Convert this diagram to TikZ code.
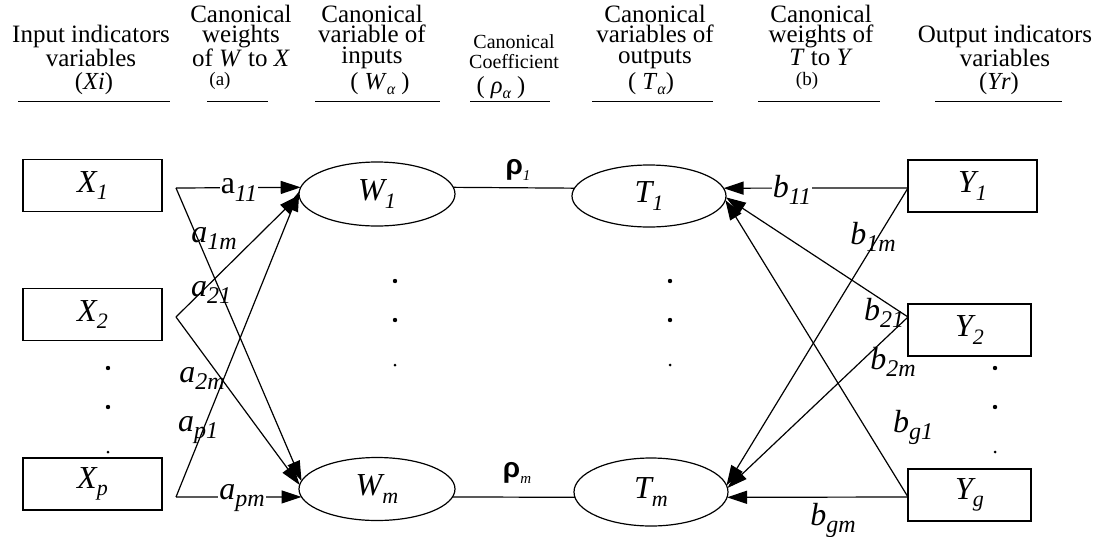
\documentclass[tikz,border=0pt]{standalone}
\usepackage{fontspec}
\setmainfont{Liberation Serif}
\newfontfamily\symf{Liberation Sans}
\usetikzlibrary{arrows.meta,shapes.geometric}
\newcommand\sbs[2]{\raisebox{-0.22em}{\fontsize{#1}{#1}\selectfont\itshape #2}}
\begin{document}
\begin{tikzpicture}[x=1pt,y=-1pt,
  every node/.style={inner sep=0pt,outer sep=0pt},
  hdr/.style={align=center,anchor=north,font=\fontsize{25}{20.5}\selectfont},
  hsm/.style={align=center,anchor=north,font=\fontsize{20}{20}\selectfont},
  par/.style={anchor=base,font=\fontsize{24.5}{24.5}\selectfont},
  psm/.style={anchor=base,font=\fontsize{19}{19}\selectfont},
  uline/.style={line width=1pt},
  box/.style={draw,line width=1.2pt,minimum height=52pt,font=\fontsize{32}{32}\selectfont\itshape},
  oval/.style={draw,ellipse,line width=1.2pt,font=\fontsize{32}{32}\selectfont\itshape},
  conn/.style={line width=1.2pt},
  arr/.style={conn,-{Triangle[length=20pt,width=13pt]}},
  lbl/.style={font=\fontsize{32}{32}\selectfont\itshape},
  wlbl/.style={lbl,fill=white,inner sep=1pt},
  rl/.style={font=\fontsize{28}{28}\selectfont}
]
\useasboundingbox (0,0) rectangle (1103,536);

% ---------- header ----------
\node[hdr] (h1) at (91,25) {Input indicators\\variables};
\node[par] (h1p) at (94,89) {(\textit{Xi})};
\node[hdr] (h2) at (241,5) {Canonical\\weights\\of \textit{W} to \textit{X}};
\node[psm] (h2p) at (220,85) {(a)};
\node[hdr] (h3) at (372,5) {Canonical\\variable of\\inputs};
\node[par] (h3p) at (380,89) {( \textit{W}\sbs{16}{α} )};
\node[hsm] (h4) at (514,35) {Canonical\\Coefficient};
\node[par] (h4p) at (501,93) {( \textit{ρ}\sbs{16}{α} )};
\node[hdr] (h5) at (655,5) {Canonical\\variables of\\outputs};
\node[par] (h5p) at (651,89) {( \textit{T}\sbs{16}{α})};
\node[hdr] (h6) at (821,5) {Canonical\\weights of\\\textit{T} to \textit{Y}};
\node[psm] (h6p) at (807,85) {(b)};
\node[hdr] (h7) at (1005,25) {Output indicators\\variables};
\node[par] (h7p) at (999,89) {(\textit{Yr})};

\draw[uline] (18,101) -- (170,101);
\draw[uline] (207,101) -- (268,101);
\draw[uline] (315,101) -- (440,101);
\draw[uline] (470,101) -- (550,101);
\draw[uline] (592,101) -- (713,101);
\draw[uline] (758,101) -- (880,101);
\draw[uline] (935,101) -- (1062,101);

% ---------- nodes ----------
\node[box,minimum width=139pt] (X1) at (92.5,185.5) {X\sbs{22}{1}};
\node[box,minimum width=139pt] (X2) at (92.5,314.5) {X\sbs{22}{2}};
\node[box,minimum width=139pt] (Xp) at (92.5,484) {X\sbs{22}{p}};
\node[oval,minimum width=156pt,minimum height=64pt] (W1) at (377,194) {W\sbs{22}{1}};
\node[oval,minimum width=156pt,minimum height=63pt] (Wm) at (377,489) {W\sbs{22}{m}};
\node[oval,minimum width=154pt,minimum height=62pt] (T1) at (649,196) {T\sbs{22}{1}};
\node[oval,minimum width=154pt,minimum height=68pt] (Tm) at (651,492) {T\sbs{22}{m}};
\node[box,minimum width=129pt] (Y1) at (972.5,186) {Y\sbs{22}{1}};
\node[box,minimum width=123pt] (Y2) at (969.5,330) {Y\sbs{22}{2}};
\node[box,minimum width=123pt] (Yg) at (969.5,495) {Y\sbs{22}{g}};

\coordinate (x1p) at (176,188);
\coordinate (x2p) at (176,317);
\coordinate (xpp) at (176,497);
\coordinate (y1p) at (908,188);
\coordinate (y2p) at (908,317);
\coordinate (ygp) at (908,497);

% ---------- connectors ----------
\draw[arr] (x1p) -- (W1.175);
\draw[arr] (x1p) -- (Wm.174);
\draw[arr] (x2p) -- (W1.181);
\draw[arr] (x2p) -- (Wm.177);
\draw[arr] (xpp) -- (W1.178);
\draw[arr] (xpp) -- (Wm.186);

\draw[conn] (W1.5) -- (T1.174);
\draw[conn] (Wm.354) -- (Tm.184);

\draw[arr] (y1p) -- (T1.6);
\draw[arr] (y1p) -- (Tm.5);
\draw[arr] (y2p) -- (T1.359);
\draw[arr] (y2p) -- (Tm.3);
\draw[arr] (ygp) -- (T1.357);
\draw[arr] (ygp) -- (Tm.356);

% ---------- labels ----------
\node[wlbl] (la11) at (239,190) {{\upshape a}\sbs{24}{11}};
\node[lbl] (la1m) at (214,238) {a\sbs{24}{1m}};
\node[lbl] (la21) at (211,292) {a\sbs{24}{21}};
\node[lbl] (la2m) at (202,378) {a\sbs{24}{2m}};
\node[lbl] (lap1) at (198,430) {a\sbs{24}{p1}};
\node[wlbl] (lapm) at (242,498) {a\sbs{24}{pm}};

\node[rl] (r1) at (518,170) {{\symf\bfseries ρ}\sbs{15}{1}};
\node[rl] (rm) at (517,473) {{\symf\bfseries ρ}\sbs{15}{m}};

\node[wlbl] (lb11) at (792,190) {b\sbs{24}{11}};
\node[lbl] (lb1m) at (873,237) {b\sbs{24}{1m}};
\node[lbl] (lb21) at (884,313) {b\sbs{24}{21}};
\node[lbl] (lb2m) at (893,362) {b\sbs{24}{2m}};
\node[lbl] (lbg1) at (913,427) {b\sbs{24}{g1}};
\node[lbl] (lbgm) at (833,520) {b\sbs{24}{gm}};

% ---------- dots ----------
\fill (108,368) circle (2.2pt) (108,407) circle (2.2pt) (108,452) circle (1.5pt);
\fill (995,368) circle (2.2pt) (995,407) circle (2.2pt) (995,452) circle (1.5pt);
\fill (395,281) circle (2.2pt) (395,320) circle (2.2pt) (395,365) circle (1.5pt);
\fill (670,281) circle (2.2pt) (670,320) circle (2.2pt) (670,365) circle (1.5pt);
\end{tikzpicture}
\end{document}
